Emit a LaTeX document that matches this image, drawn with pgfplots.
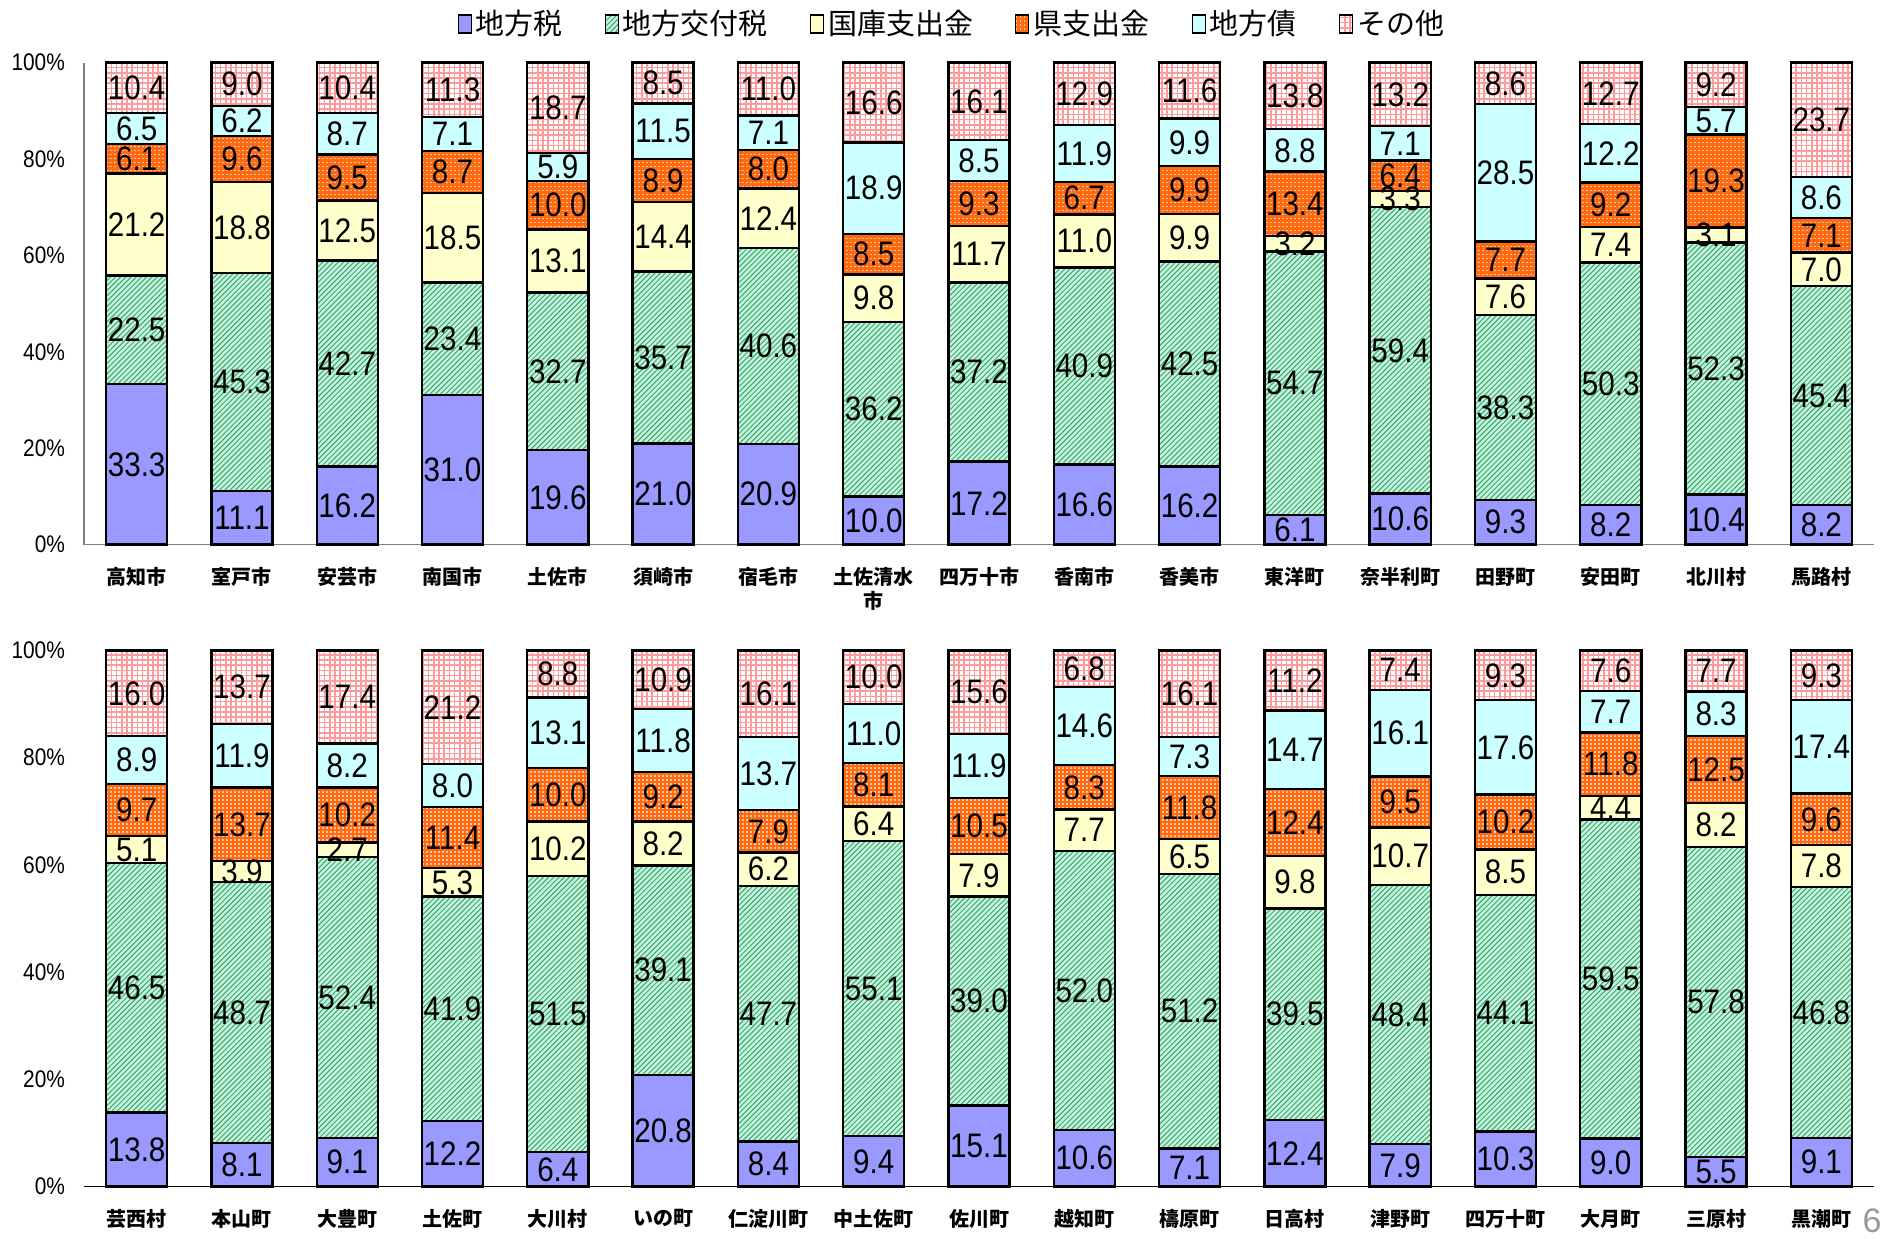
\documentclass[border=0pt]{standalone}
\usepackage{fontspec}
\setmainfont{Liberation Sans}
\newfontfamily\numfont[FakeStretch=0.87]{Liberation Sans}
\newfontfamily\cjk{Noto Sans CJK JP}
\usepackage{pgfplots}
\usepackage{pgfplotstable}
\pgfplotsset{compat=1.18}

\definecolor{ctax}{HTML}{9999FF}
\definecolor{cgbg}{HTML}{C8F6D4}
\definecolor{cgfg}{HTML}{3AA585}
\definecolor{cnat}{HTML}{FFFFCC}
\definecolor{cpref}{HTML}{FF6A10}
\definecolor{cdot}{HTML}{FFC8A0}
\definecolor{cbond}{HTML}{CCFFFF}
\definecolor{cgrid}{HTML}{FF9A9A}

% interior textures drawn as clipped lines (path picture), basic-layer only
\newif\ifppok
\newcommand\ppbox{%
  \pgfpointanchor{path picture bounding box}{south west}\pgfgetlastxy{\ppx}{\ppy}%
  \pgfpointanchor{path picture bounding box}{north east}\pgfgetlastxy{\ppX}{\ppY}%
  \ppokfalse
  \ifdim\ppx>-3000pt\relax\ifdim\ppX<3000pt\relax\ifdim\ppy>-3000pt\relax\ifdim\ppY<3000pt\relax
    \ifdim\ppX>\ppx\relax\ifdim\ppY>\ppy\relax\ppoktrue\fi\fi\fi\fi\fi\fi
  \ifppok
  \pgfmathsetmacro\ppx{\ppx}\pgfmathsetmacro\ppy{\ppy}%
  \pgfmathsetmacro\ppw{\ppX-\ppx}\pgfmathsetmacro\pph{\ppY-\ppy}%
  \fi}
\newcommand\diaglines{\ppbox
  \ifppok
  \pgfmathtruncatemacro\nn{(\ppw+\pph)/2.6+3}%
  \pgfsetstrokecolor{cgfg}\pgfsetlinewidth{0.5pt}\pgfsetdash{}{0pt}%
  \foreach \i in {0,...,\nn}{%
    \pgfpathmoveto{\pgfpoint{(\ppx-\pph-3+\i*2.6)*1pt}{(\ppy-1)*1pt}}%
    \pgfpathlineto{\pgfpoint{(\ppx+\i*2.6)*1pt}{(\ppy+\pph+2)*1pt}}%
    \pgfusepath{stroke}}%
  \fi}
\newcommand\gridlines{\ppbox
  \ifppok
  \pgfmathtruncatemacro\nx{\ppw/2.6+2}\pgfmathtruncatemacro\ny{\pph/2.6+2}%
  \pgfsetstrokecolor{cgrid}\pgfsetlinewidth{0.8pt}\pgfsetdash{}{0pt}%
  \foreach \i in {0,...,\nx}{%
    \pgfpathmoveto{\pgfpoint{(\ppx+\i*2.6)*1pt}{(\ppy-1)*1pt}}%
    \pgfpathlineto{\pgfpoint{(\ppx+\i*2.6)*1pt}{(\ppy+\pph+1)*1pt}}%
    \pgfusepath{stroke}}%
  \foreach \i in {0,...,\ny}{%
    \pgfpathmoveto{\pgfpoint{(\ppx-1)*1pt}{(\ppy+\i*2.6)*1pt}}%
    \pgfpathlineto{\pgfpoint{(\ppx+\ppw+1)*1pt}{(\ppy+\i*2.6)*1pt}}%
    \pgfusepath{stroke}}%
  \fi}
\newcommand\dotrows{\ppbox
  \ifppok
  \pgfmathtruncatemacro\ny{\pph/2+2}%
  \pgfsetstrokecolor{cdot}\pgfsetlinewidth{0.8pt}\pgfsetdash{{0.8pt}{1.2pt}}{0pt}%
  \foreach \i in {0,...,\ny}{%
    \pgfpathmoveto{\pgfpoint{\ppx*1pt}{(\ppy+\i*2)*1pt}}%
    \pgfpathlineto{\pgfpoint{(\ppx+\ppw)*1pt}{(\ppy+\i*2)*1pt}}%
    \pgfusepath{stroke}}%
  \fi}

\pgfplotstableread{
x a b c d e f
0 33.3 22.5 21.2 6.1 6.5 10.4
1 11.1 45.3 18.8 9.6 6.2 9.0
2 16.2 42.7 12.5 9.5 8.7 10.4
3 31.0 23.4 18.5 8.7 7.1 11.3
4 19.6 32.7 13.1 10.0 5.9 18.7
5 21.0 35.7 14.4 8.9 11.5 8.5
6 20.9 40.6 12.4 8.0 7.1 11.0
7 10.0 36.2 9.8 8.5 18.9 16.6
8 17.2 37.2 11.7 9.3 8.5 16.1
9 16.6 40.9 11.0 6.7 11.9 12.9
10 16.2 42.5 9.9 9.9 9.9 11.6
11 6.1 54.7 3.2 13.4 8.8 13.8
12 10.6 59.4 3.3 6.4 7.1 13.2
13 9.3 38.3 7.6 7.7 28.5 8.6
14 8.2 50.3 7.4 9.2 12.2 12.7
15 10.4 52.3 3.1 19.3 5.7 9.2
16 8.2 45.4 7.0 7.1 8.6 23.7
}\topdata

\pgfplotstableread{
x a b c d e f
0 13.8 46.5 5.1 9.7 8.9 16.0
1 8.1 48.7 3.9 13.7 11.9 13.7
2 9.1 52.4 2.7 10.2 8.2 17.4
3 12.2 41.9 5.3 11.4 8.0 21.2
4 6.4 51.5 10.2 10.0 13.1 8.8
5 20.8 39.1 8.2 9.2 11.8 10.9
6 8.4 47.7 6.2 7.9 13.7 16.1
7 9.4 55.1 6.4 8.1 11.0 10.0
8 15.1 39.0 7.9 10.5 11.9 15.6
9 10.6 52.0 7.7 8.3 14.6 6.8
10 7.1 51.2 6.5 11.8 7.3 16.1
11 12.4 39.5 9.8 12.4 14.7 11.2
12 7.9 48.4 10.7 9.5 16.1 7.4
13 10.3 44.1 8.5 10.2 17.6 9.3
14 9.0 59.5 4.4 11.8 7.7 7.6
15 5.5 57.8 8.2 12.5 8.3 7.7
16 9.1 46.8 7.8 9.6 17.4 9.3
}\botdata

\pgfplotsset{
  mybars/.style={
    ybar stacked, bar width=0.58, scale only axis, width=895pt,
    xmin=-0.5, xmax=16.5, ymin=0, ymax=100, clip=false,
    xtick={0,...,16}, ytick={0,20,...,100},
    yticklabels={0\%,20\%,40\%,60\%,80\%,100\%},
    tick style={draw=none},
    yticklabel style={font=\numfont\fontsize{12}{12}\selectfont, xshift=-6pt},
    xticklabel style={font=\cjk\bfseries\fontsize{10}{12}\selectfont, align=center, yshift=-8pt},
    /pgf/number format/assume math mode=true,
    point meta=rawy,
    nodes near coords={\pgfmathprintnumber[fixed,fixed zerofill,precision=1]{\pgfplotspointmeta}},
    every node near coord/.append style={font=\numfont\fontsize{17}{17}\selectfont, anchor=center, inner sep=0pt, path picture={}},
    legend image code/.code={\draw[##1, line width=0.6pt] (0pt,-4.5pt) rectangle (6.5pt,4.5pt);},
  },
  s1/.style={draw=black, line width=1.2pt, fill=ctax},
  s2/.style={draw=black, line width=1.2pt, fill=cgbg, path picture={\diaglines}},
  s3/.style={draw=black, line width=1.2pt, fill=cnat},
  s4/.style={draw=black, line width=1.2pt, fill=cpref, path picture={\dotrows}},
  s5/.style={draw=black, line width=1.2pt, fill=cbond},
  s6/.style={draw=black, line width=1.2pt, fill=white, path picture={\gridlines}},
}

\begin{document}
\begin{tikzpicture}
\useasboundingbox (0,0) rectangle (942.5pt,619pt);
\begin{axis}[mybars, height=241pt, at={(42pt,346.7pt)}, anchor=south west,
  axis x line*=bottom, axis y line*=left,
  axis line style={draw=gray, line width=0.8pt},
  xticklabels={高知市,室戸市,安芸市,南国市,土佐市,須崎市,宿毛市,{土佐清水\\市},四万十市,香南市,香美市,東洋町,奈半利町,田野町,安田町,北川村,馬路村},
  legend style={at={(0.4855,1.080)}, anchor=center, legend columns=-1, draw=none, fill=none,
    font=\cjk\fontsize{14.5}{15}\selectfont,
    /tikz/every even column/.append style={column sep=19pt}},
]
\addplot[s1] table[x=x,y=a]{\topdata};
\addplot[s2] table[x=x,y=b]{\topdata};
\addplot[s3] table[x=x,y=c]{\topdata};
\addplot[s4] table[x=x,y=d]{\topdata};
\addplot[s5] table[x=x,y=e]{\topdata};
\addplot[s6] table[x=x,y=f]{\topdata};
\legend{地方税,地方交付税,国庫支出金,県支出金,地方債,その他}
\end{axis}
\begin{axis}[mybars, height=268.1pt, at={(42pt,25.7pt)}, anchor=south west,
  axis x line*=bottom, axis y line*=left,
  x axis line style={draw=black, line width=0.6pt},
  y axis line style={draw=none},
  xticklabels={芸西村,本山町,大豊町,土佐町,大川村,いの町,仁淀川町,中土佐町,佐川町,越知町,檮原町,日高村,津野町,四万十町,大月町,三原村,黒潮町},
]
\addplot[s1] table[x=x,y=a]{\botdata};
\addplot[s2] table[x=x,y=b]{\botdata};
\addplot[s3] table[x=x,y=c]{\botdata};
\addplot[s4] table[x=x,y=d]{\botdata};
\addplot[s5] table[x=x,y=e]{\botdata};
\addplot[s6] table[x=x,y=f]{\botdata};
\end{axis}
\node[font=\fontsize{17}{17}\selectfont, text=gray!80] at (936pt,8.5pt) {6};
\end{tikzpicture}
\end{document}
